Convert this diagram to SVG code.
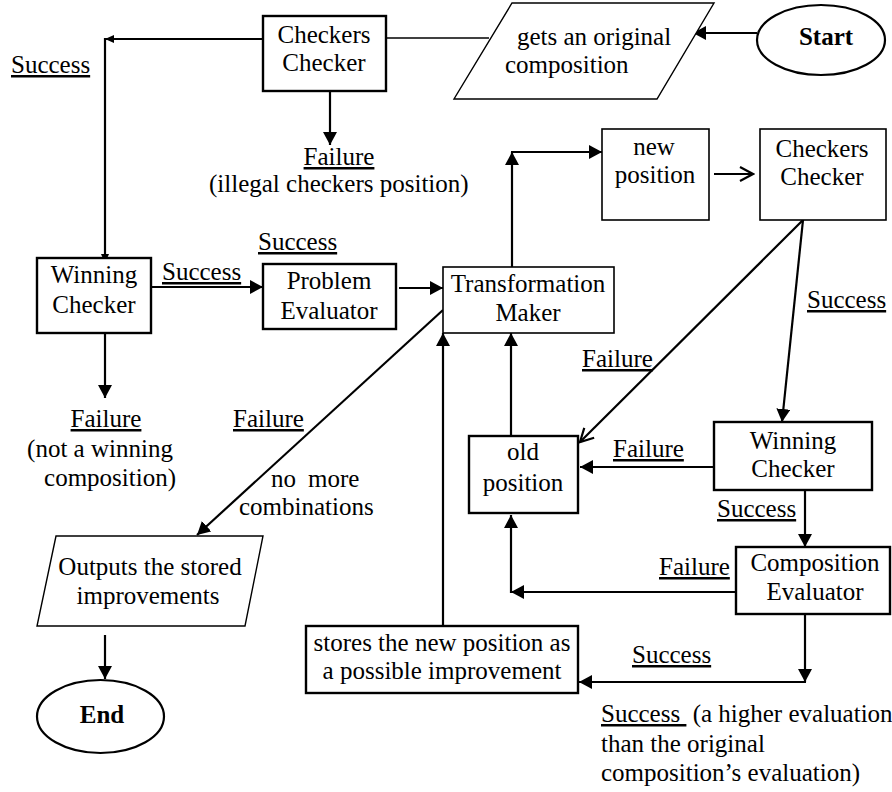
<svg xmlns="http://www.w3.org/2000/svg" width="892" height="792" viewBox="0 0 892 792" font-family="'Liberation Serif', 'DejaVu Serif', serif">
<style>
text{font-family:'Liberation Serif','DejaVu Serif',serif;font-size:25px;fill:#000}
.c{text-anchor:middle}
.b{font-weight:bold}
.u{text-decoration:underline}
.box{fill:#fff;stroke:#000;stroke-width:2.4}
.tbox{fill:#fff;stroke:#000;stroke-width:1.6}
.par{fill:#fff;stroke:#000;stroke-width:1.4}
.ln{fill:none;stroke:#000;stroke-width:2.2}
.th{fill:none;stroke:#000;stroke-width:1.5}
</style>
<defs>
<marker id="big" markerUnits="userSpaceOnUse" markerWidth="14" markerHeight="14" refX="13" refY="7" orient="auto" viewBox="0 0 14 14"><path d="M0,0 L13,7 L0,14 Z" fill="#000"/></marker>
<marker id="sm" markerUnits="userSpaceOnUse" markerWidth="9" markerHeight="8" refX="9" refY="4" orient="auto" viewBox="0 0 9 8"><path d="M0,0 L9,4 L0,8 Z" fill="#000"/></marker>
<marker id="open" markerUnits="userSpaceOnUse" markerWidth="16" markerHeight="16" refX="14" refY="8" orient="auto" viewBox="0 0 16 16"><path d="M1,1 L14,8 L1,15" fill="none" stroke="#000" stroke-width="2.2"/></marker>
</defs>

<g id="connectors">
<line class="ln" x1="757" y1="33" x2="693" y2="33" marker-end="url(#big)"/>
<line class="th" x1="489" y1="38" x2="377" y2="38" marker-end="url(#sm)"/>
<line class="ln" x1="263" y1="39" x2="105" y2="39" marker-end="url(#sm)"/>
<line class="ln" x1="105" y1="38" x2="105" y2="263" marker-end="url(#sm)"/>
<line class="ln" x1="330" y1="85" x2="330" y2="145" marker-end="url(#big)"/>
<line class="ln" x1="151" y1="287" x2="263" y2="287" marker-end="url(#big)"/>
<line class="ln" x1="399" y1="288" x2="443" y2="288" marker-end="url(#big)"/>
<line class="ln" x1="512" y1="267" x2="512" y2="152" marker-end="url(#big)"/>
<line class="ln" x1="511" y1="152" x2="602" y2="152" marker-end="url(#big)"/>
<line class="ln" x1="714" y1="174" x2="753" y2="174" marker-end="url(#open)"/>
<line class="ln" x1="803" y1="220" x2="782" y2="422" marker-end="url(#big)"/>
<line class="ln" x1="803" y1="220" x2="580" y2="442" marker-end="url(#open)"/>
<line class="ln" x1="714" y1="467" x2="580" y2="467" marker-end="url(#big)"/>
<line class="ln" x1="805" y1="490" x2="805" y2="547" marker-end="url(#big)"/>
<line class="ln" x1="736" y1="592" x2="511" y2="592" marker-end="url(#big)"/>
<line class="ln" x1="511" y1="593" x2="511" y2="515" marker-end="url(#big)"/>
<line class="ln" x1="805" y1="614" x2="805" y2="682" marker-end="url(#big)"/>
<line class="ln" x1="806" y1="682" x2="579" y2="682" marker-end="url(#big)"/>
<line class="ln" x1="443" y1="626" x2="443" y2="333" marker-end="url(#big)"/>
<line class="ln" x1="511" y1="440" x2="511" y2="333" marker-end="url(#big)"/>
<line class="ln" x1="443" y1="310" x2="197" y2="535" marker-end="url(#big)"/>
<line class="ln" x1="105" y1="635" x2="105" y2="679" marker-end="url(#big)"/>
<line class="ln" x1="105" y1="333" x2="105" y2="398" marker-end="url(#big)"/>
</g>

<g id="start">
<ellipse cx="821" cy="40" rx="64" ry="35" fill="#fff" stroke="#000" stroke-width="2.2"/>
<text class="c b" x="826" y="45">Start</text>
</g>
<g id="gets-original">
<polygon class="par" points="512,3 714,3 657,99 454,99"/>
<text x="517" y="45">gets an original</text>
<text x="505" y="73">composition</text>
</g>
<g id="checkers-checker-1">
<rect class="box" x="263" y="16" width="123" height="75"/>
<text class="c" x="324" y="43">Checkers</text>
<text class="c" x="324" y="71">Checker</text>
</g>
<g id="winning-checker-1">
<rect class="box" x="37" y="258" width="114" height="75"/>
<text class="c" x="94" y="283">Winning</text>
<text class="c" x="94" y="313">Checker</text>
</g>
<g id="problem-evaluator">
<rect class="box" x="263" y="264" width="133" height="65"/>
<text class="c" x="329" y="289">Problem</text>
<text class="c" x="329" y="319">Evaluator</text>
</g>
<g id="transformation-maker">
<rect class="tbox" x="443" y="267" width="171" height="66"/>
<text class="c" x="528" y="292">Transformation</text>
<text class="c" x="528" y="321">Maker</text>
</g>
<g id="new-position">
<rect class="tbox" x="602" y="129" width="107" height="91"/>
<text class="c" x="654" y="155">new</text>
<text class="c" x="655" y="183">position</text>
</g>
<g id="checkers-checker-2">
<rect class="tbox" x="760" y="129" width="126" height="91"/>
<text class="c" x="822" y="157">Checkers</text>
<text class="c" x="822" y="185">Checker</text>
</g>
<g id="winning-checker-2">
<rect class="box" x="714" y="422" width="158" height="68"/>
<text class="c" x="793" y="449">Winning</text>
<text class="c" x="793" y="477">Checker</text>
</g>
<g id="old-position">
<rect class="box" x="469" y="436" width="109" height="77"/>
<text class="c" x="523" y="460">old</text>
<text class="c" x="523" y="491">position</text>
</g>
<g id="composition-evaluator">
<rect class="box" x="736" y="547" width="154" height="67"/>
<text class="c" x="815" y="571">Composition</text>
<text class="c" x="815" y="600">Evaluator</text>
</g>
<g id="stores">
<rect class="box" x="306" y="626" width="272" height="67"/>
<text class="c" x="442" y="651">stores the new position as</text>
<text class="c" x="442" y="679">a possible improvement</text>
</g>
<g id="outputs">
<polygon class="par" points="56,536 263,536 245,626 37,626"/>
<text class="c" x="150" y="575">Outputs the stored</text>
<text class="c" x="148" y="604">improvements</text>
</g>
<g id="end">
<ellipse cx="100.5" cy="716.5" rx="63.5" ry="36.5" fill="#fff" stroke="#000" stroke-width="2.2"/>
<text class="c b" x="102" y="723">End</text>
</g>

<g id="labels">
<text class="u" x="11" y="73">Success</text>
<text class="c u" x="339" y="165">Failure</text>
<text x="209" y="192">(illegal checkers position)</text>
<text class="u" x="258" y="250">Success</text>
<text class="u" x="162" y="280">Success</text>
<text class="c u" x="106" y="427">Failure</text>
<text class="c" x="100" y="457">(not a winning</text>
<text class="c" x="110" y="486">composition)</text>
<text class="u" x="233" y="427">Failure</text>
<text x="271" y="487">no</text>
<text x="308" y="487">more</text>
<text x="239" y="515">combinations</text>
<text class="u" x="807" y="308">Success</text>
<text class="u" x="582" y="367">Failure</text>
<text class="u" x="613" y="457">Failure</text>
<text class="u" x="717" y="517">Success</text>
<text class="u" x="659" y="575">Failure</text>
<text class="u" x="632" y="663">Success</text>
<text x="601" y="722"><tspan class="u">Success&#160;</tspan>&#160;(a higher evaluation</text>
<text x="601" y="752">than the original</text>
<text x="601" y="781">composition’s evaluation)</text>
</g>
</svg>
